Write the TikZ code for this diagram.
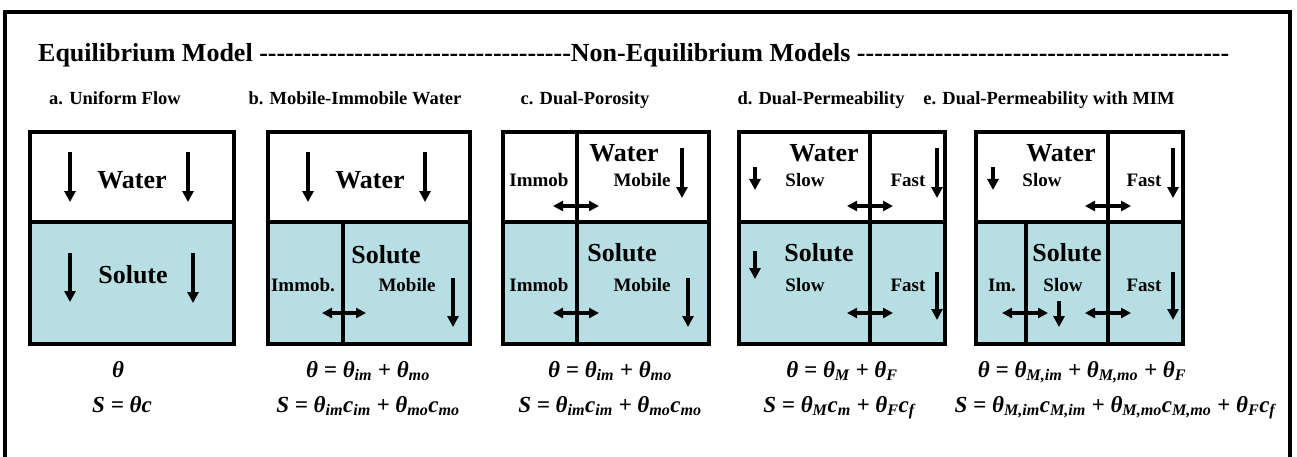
\documentclass[tikz,border=0pt]{standalone}
\usepackage{fontspec}
\setmainfont{Liberation Serif}
\usetikzlibrary{arrows.meta}

\definecolor{solute}{RGB}{183,222,227}
\newcommand\dashrun[1]{\foreach \k in {1,...,#1}{-}}
\newcommand\low[1]{\textsubscript{#1}}

\begin{document}
\begin{tikzpicture}[x=1pt, y=-1pt,
  every node/.style={inner sep=0pt},
  box/.style={line width=3.6pt},
  flow/.style={line width=3.2pt, -{Triangle[length=11pt,width=11pt]}},
  swap/.style={line width=3.2pt, {Triangle[length=10pt,width=10pt]}-{Triangle[length=10pt,width=10pt]}},
  head/.style={font=\fontsize{26}{30}\selectfont\bfseries},
  sub/.style={font=\fontsize{18.5}{22}\selectfont\bfseries},
  big/.style={font=\fontsize{26}{30}\selectfont\bfseries},
  small/.style={font=\fontsize{19}{22}\selectfont\bfseries},
  eq/.style={font=\fontsize{23}{26}\selectfont\bfseries\itshape}]
  \useasboundingbox (0,0) rectangle (1297,457);
  \draw[line width=4.5pt] (5,470) -- (5,12) -- (1290,12) -- (1290,470);

  \node[head, anchor=base west] (title) at (38,62)
    {Equilibrium Model \dashrun{36}Non-Equilibrium Models \dashrun{43}};

  \node[sub, anchor=base] (suba) at (115,105) {a. Uniform Flow};
  \node[sub, anchor=base] (subb) at (355,105) {b. Mobile-Immobile Water};
  \node[sub, anchor=base] (subc) at (585,105) {c. Dual-Porosity};
  \node[sub, anchor=base] (subd) at (821,105) {d. Dual-Permeability};
  \node[sub, anchor=base] (sube) at (1049,105) {e. Dual-Permeability with MIM};

  % the five soil boxes
  \foreach \l/\r in {30/234, 268/470, 503/709, 739/945, 976/1183} {
    \fill[solute] (\l,222) rectangle (\r,344);
    \draw[box] (\l,132) rectangle (\r,344);
    \draw[box] (\l,222) -- (\r,222);
  }
  \draw[box] (343,222) -- (343,344);
  \draw[box] (577,132) -- (577,344);
  \draw[box] (870,132) -- (870,344);
  \draw[box] (1108,132) -- (1108,344);
  \draw[box] (1026,222) -- (1026,344);

  % a. uniform flow
  \node[big] (watera) at (132,180) {Water};
  \node[big] (solutea) at (133,275) {Solute};
  \draw[flow] (70,152) -- (70,202);
  \draw[flow] (188,152) -- (188,202);
  \draw[flow] (70,253) -- (70,302);
  \draw[flow] (193,253) -- (193,303);

  % b. mobile-immobile water
  \node[big] (waterb) at (370,180) {Water};
  \node[big] (soluteb) at (386,255) {Solute};
  \node[small] (immobb) at (303,285) {Immob.};
  \node[small] (mobileb) at (407,285) {Mobile};
  \draw[flow] (308,152) -- (308,202);
  \draw[flow] (425,152) -- (425,202);
  \draw[flow] (453,278) -- (453,327);
  \draw[swap] (322,313) -- (366,313);

  % c. dual-porosity
  \node[big] (waterc) at (624,153) {Water};
  \node[small] (immobcw) at (539,180) {Immob};
  \node[small] (mobilecw) at (642,180) {Mobile};
  \node[big] (solutec) at (622,253) {Solute};
  \node[small] (immobcs) at (539,285) {Immob};
  \node[small] (mobilecs) at (642,285) {Mobile};
  \draw[flow] (682,148) -- (682,198);
  \draw[flow] (688,278) -- (688,327);
  \draw[swap] (553,206) -- (599,206);
  \draw[swap] (553,313) -- (599,313);

  % d. dual-permeability
  \node[big] (waterd) at (824,153) {Water};
  \node[small] (slowdw) at (805,180) {Slow};
  \node[small] (fastdw) at (908,180) {Fast};
  \node[big] (soluted) at (819,253) {Solute};
  \node[small] (slowds) at (805,285) {Slow};
  \node[small] (fastds) at (908,285) {Fast};
  \draw[flow] (755,167) -- (755,190);
  \draw[flow] (755,251) -- (755,279);
  \draw[flow] (937,148) -- (937,198);
  \draw[flow] (937,272) -- (937,320);
  \draw[swap] (847,206) -- (893,206);
  \draw[swap] (847,313) -- (893,313);

  % e. dual-permeability with MIM
  \node[big] (watere) at (1061,153) {Water};
  \node[small] (slowew) at (1042,180) {Slow};
  \node[small] (fastew) at (1144,180) {Fast};
  \node[big] (solutee) at (1067,253) {Solute};
  \node[small] (imes) at (1002,285) {Im.};
  \node[small] (slowes) at (1063,285) {Slow};
  \node[small] (fastes) at (1144,285) {Fast};
  \draw[flow] (993,167) -- (993,190);
  \draw[flow] (1173,148) -- (1173,198);
  \draw[flow] (1059,301) -- (1059,327);
  \draw[flow] (1173,272) -- (1173,320);
  \draw[swap] (1085,206) -- (1131,206);
  \draw[swap] (1002,313) -- (1048,313);
  \draw[swap] (1085,313) -- (1131,313);

  % storage relations
  \node[eq, anchor=base] (eqa1) at (118,377) {θ};
  \node[eq, anchor=base] (eqa2) at (122,412) {S = θc};
  \node[eq, anchor=base] (eqb1) at (368,377) {θ = θ\low{im} + θ\low{mo}};
  \node[eq, anchor=base] (eqb2) at (368,412) {S = θ\low{im}c\low{im} + θ\low{mo}c\low{mo}};
  \node[eq, anchor=base] (eqc1) at (610,377) {θ = θ\low{im} + θ\low{mo}};
  \node[eq, anchor=base] (eqc2) at (610,412) {S = θ\low{im}c\low{im} + θ\low{mo}c\low{mo}};
  \node[eq, anchor=base] (eqd1) at (842,377) {θ = θ\low{M} + θ\low{F}};
  \node[eq, anchor=base] (eqd2) at (839,412) {S = θ\low{M}c\low{m} + θ\low{F}c\low{f}};
  \node[eq, anchor=base] (eqe1) at (1082,377) {θ = θ\low{M,im} + θ\low{M,mo} + θ\low{F}};
  \node[eq, anchor=base] (eqe2) at (1115,412) {S = θ\low{M,im}c\low{M,im} + θ\low{M,mo}c\low{M,mo} + θ\low{F}c\low{f}};
\end{tikzpicture}
\end{document}
